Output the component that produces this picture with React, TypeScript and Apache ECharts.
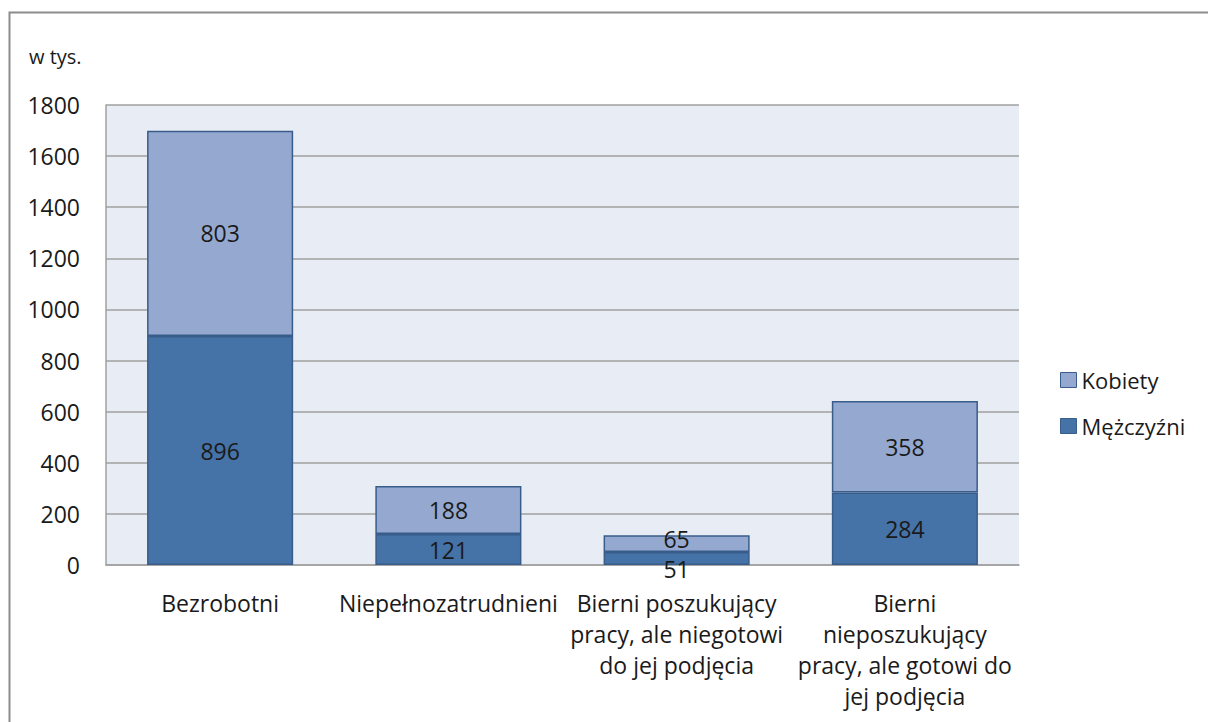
import React, { useEffect, useRef } from "react";
import * as echarts from "echarts";

const categories = [
  "Bezrobotni",
  "Niepełnozatrudnieni",
  "Bierni poszukujący\npracy, ale niegotowi\ndo jej podjęcia",
  "Bierni\nnieposzukujący\npracy, ale gotowi do\njej podjęcia",
];
const men = [896, 121, 51, 284];
const women = [803, 188, 65, 358];
const menLabelOffsetY = [0, 0, 11, 0];
const womenLabelOffsetY = [0, 0, -5, 0];

const FONT = "'Open Sans', Lato, sans-serif";

export default function App() {
  const ref = useRef<HTMLDivElement>(null);
  useEffect(() => {
    if (!ref.current) return;
    const chart = echarts.init(ref.current, undefined, { renderer: "svg" });
    const labelBase = {
      show: true,
      position: "inside",
      fontSize: 23,
      lineHeight: 25,
      color: "#1a1a1a",
      fontFamily: FONT,
    };
    chart.setOption({
      animation: false,
      textStyle: { fontFamily: FONT },
      graphic: [
        {
          type: "rect",
          shape: { x: 9.5, y: 12.5, width: 1400, height: 900 },
          style: { fill: "none", stroke: "#8c8c8c", lineWidth: 2 },
        },
        {
          type: "text",
          left: 29,
          top: 46,
          style: { text: "w tys.", fontSize: 20, fill: "#1a1a1a", fontFamily: FONT },
        },
      ],
      grid: {
        left: 106,
        right: 189,
        top: 105,
        bottom: 157,
        show: true,
        backgroundColor: "#e8ecf4",
        borderWidth: 0,
      },
      legend: {
        orient: "vertical",
        left: 1055,
        top: 364,
        itemWidth: 16,
        itemHeight: 15,
        itemGap: 24,
        icon: "rect",
        data: ["Kobiety", "Mężczyźni"],
        itemStyle: { borderColor: "#385d8a", borderWidth: 1 },
        textStyle: { fontSize: 22, color: "#1a1a1a", fontFamily: FONT, padding: [0, 0, 0, 0] },
      },
      xAxis: {
        type: "category",
        data: categories,
        axisLine: { lineStyle: { color: "#a0a0a0", width: 1.5 } },
        axisTick: { show: false },
        axisLabel: {
          fontSize: 23,
          color: "#1a1a1a",
          lineHeight: 31,
          margin: 22,
          interval: 0,
          fontFamily: FONT,
        },
      },
      yAxis: {
        type: "value",
        min: 0,
        max: 1800,
        interval: 200,
        axisLine: { show: true, lineStyle: { color: "#a0a0a0", width: 1.5 } },
        axisTick: { show: false },
        splitLine: { lineStyle: { color: "#a0a0a0", width: 1.5 } },
        axisLabel: {
          fontSize: 23,
          color: "#1a1a1a",
          margin: 26,
          fontFamily: FONT,
          formatter: (v: number) => String(v),
        },
      },
      series: [
        {
          name: "Mężczyźni",
          type: "bar",
          stack: "total",
          barWidth: "64%",
          itemStyle: { color: "#4572a7", borderColor: "#385d8a", borderWidth: 1.5 },
          label: labelBase,
          data: men.map((v, i) => ({ value: v, label: { offset: [0, menLabelOffsetY[i]] } })),
        },
        {
          name: "Kobiety",
          type: "bar",
          stack: "total",
          barWidth: "64%",
          itemStyle: { color: "#95a9d0", borderColor: "#385d8a", borderWidth: 1.5 },
          label: labelBase,
          data: women.map((v, i) => ({ value: v, label: { offset: [0, womenLabelOffsetY[i]] } })),
        },
      ],
    });
    return () => chart.dispose();
  }, []);
  return (
    <div
      ref={ref}
      style={{ position: "fixed", left: 0, top: 0, width: 1208, height: 722, background: "#fff" }}
    />
  );
}
